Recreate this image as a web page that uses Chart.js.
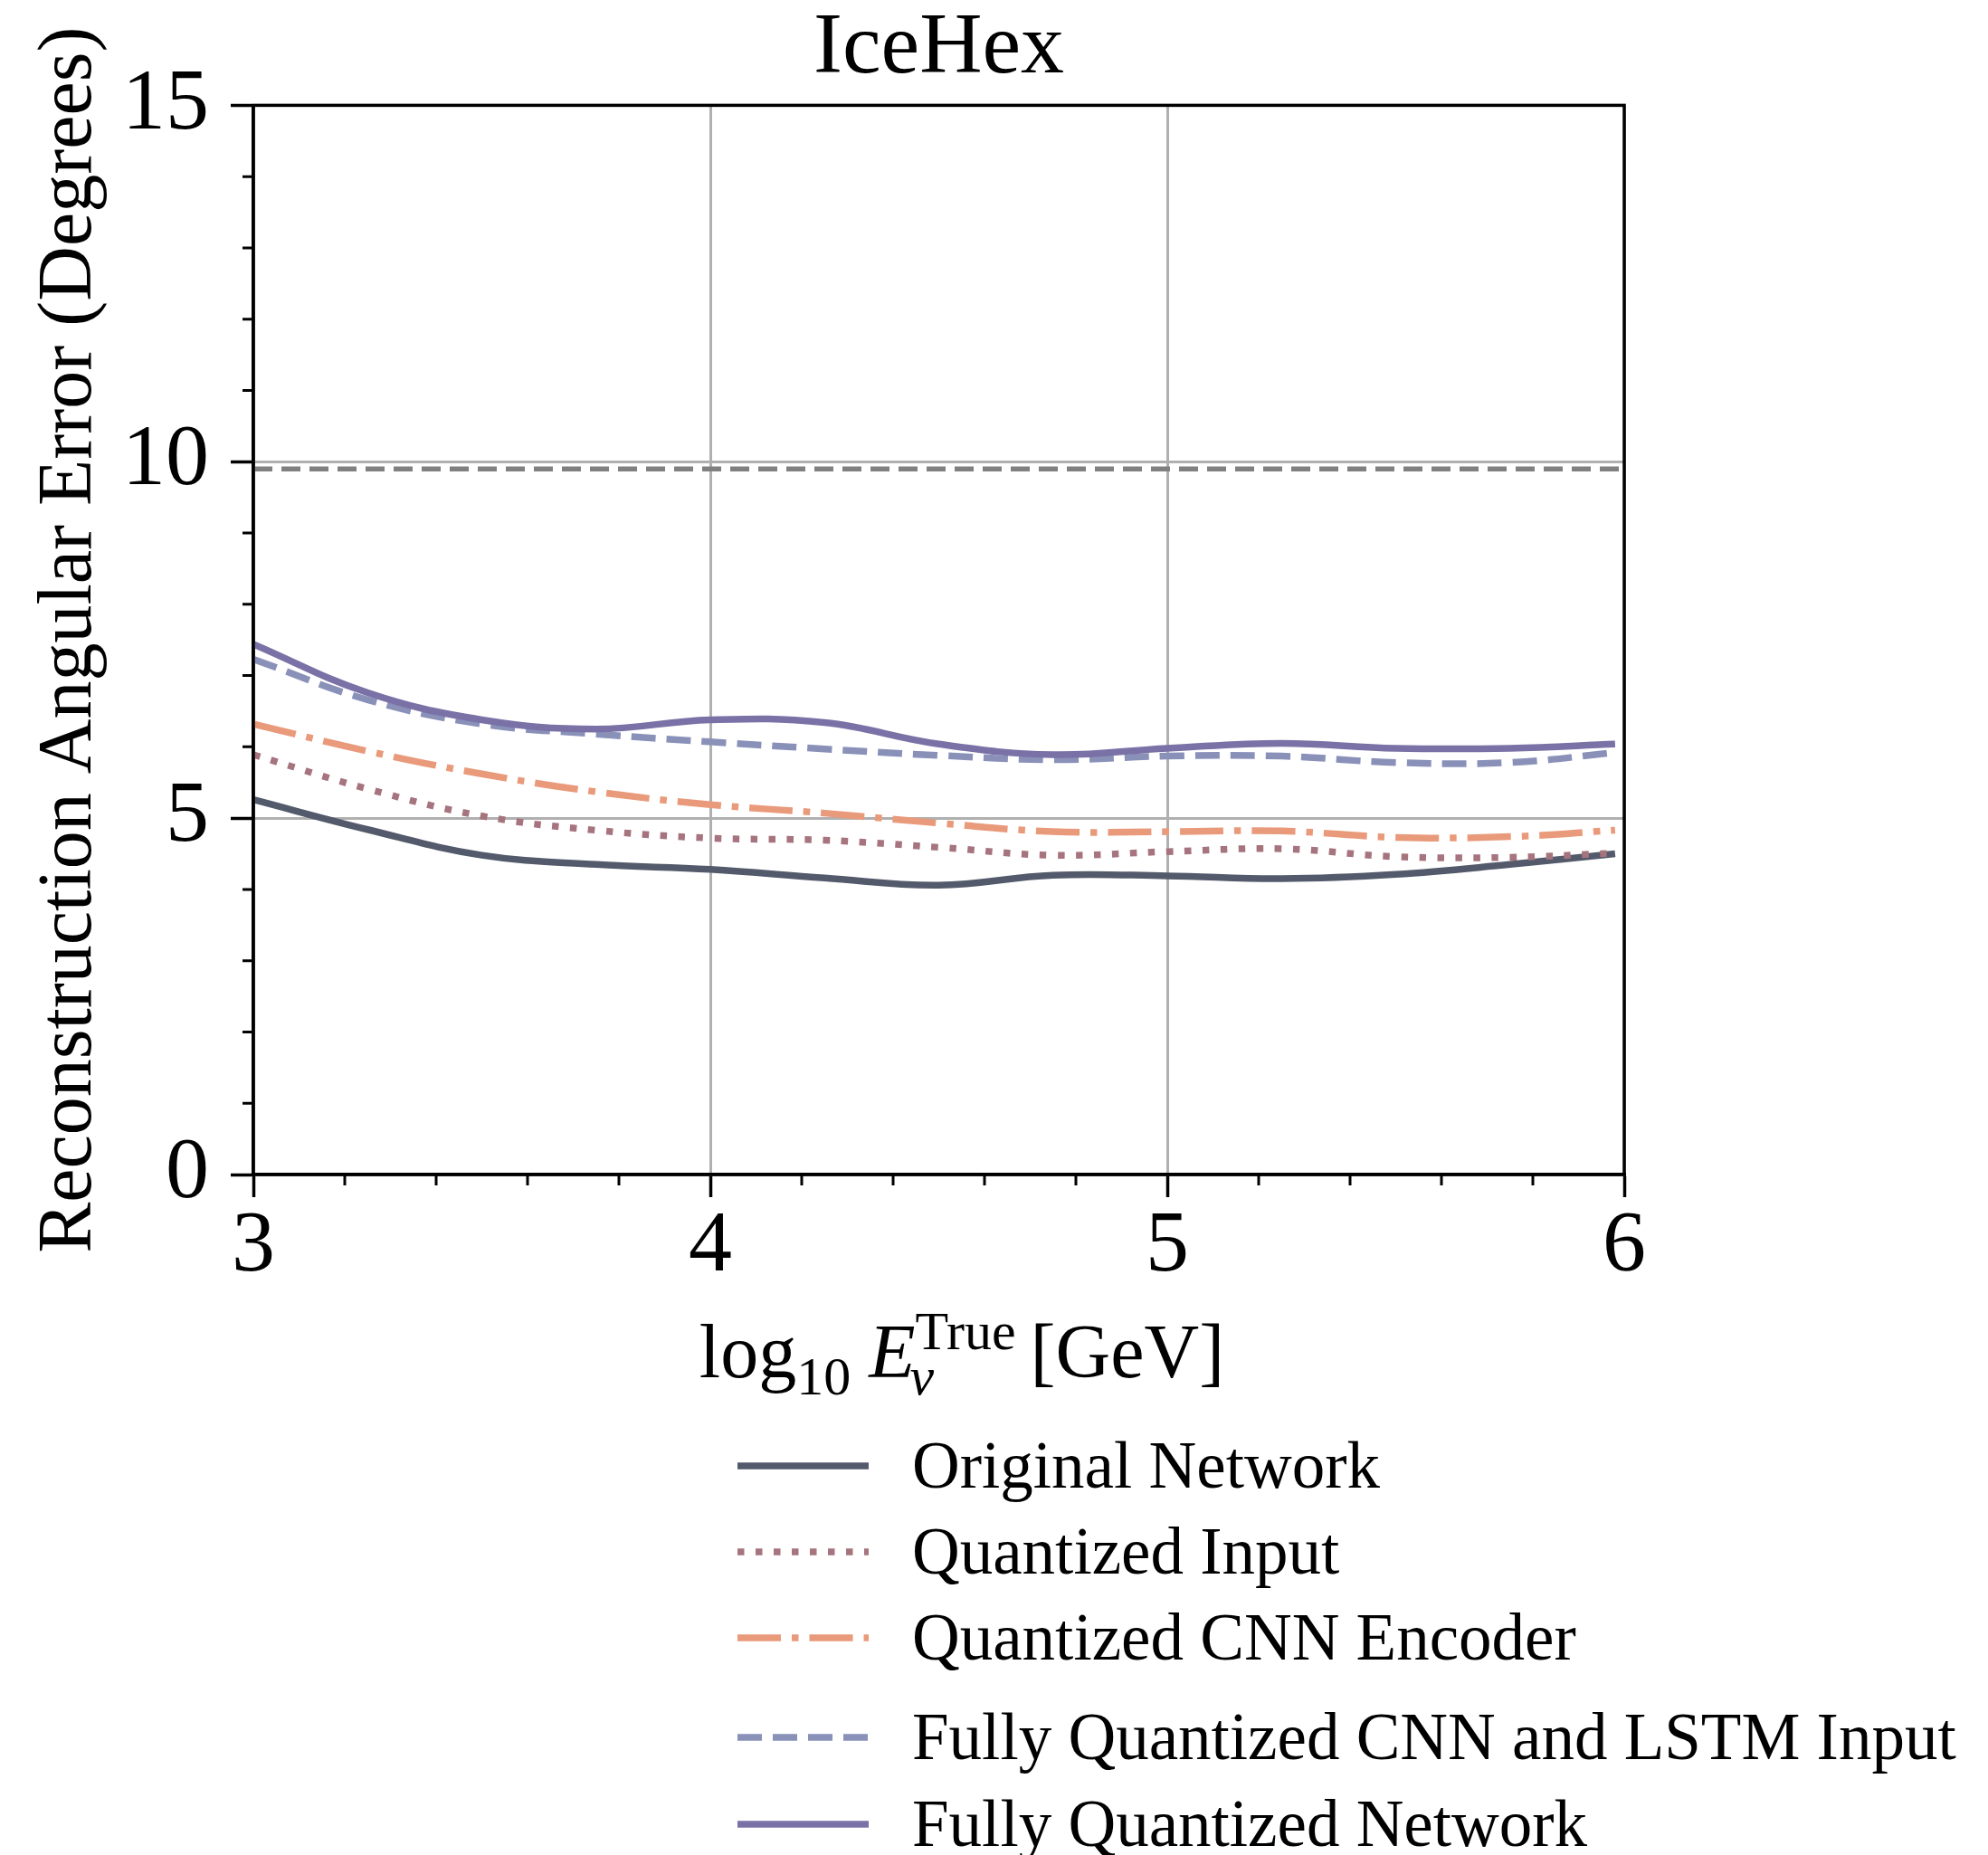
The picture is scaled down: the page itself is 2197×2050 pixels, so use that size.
<!DOCTYPE html>
<html>
<head>
<meta charset="utf-8">
<script src="https://cdn.jsdelivr.net/npm/chart.js@4.4.1/dist/chart.umd.min.js"></script>
<style>
  html, body { margin: 0; padding: 0; background: #fff; }
  #wrap { width: 2197px; height: 2050px; }
</style>
</head>
<body>
<div id="wrap"><canvas id="errChart" width="2197" height="2050"></canvas></div>
<script>
// log10(E_true / GeV) bin positions
const energies = [3.0, 3.25, 3.5, 3.75, 4.0, 4.25, 4.5, 4.75, 5.0, 5.25, 5.5, 5.75, 5.98];

// reconstruction angular error in degrees
const originalNet  = [5.26, 4.84, 4.48, 4.35, 4.28, 4.16, 4.06, 4.20, 4.19, 4.15, 4.21, 4.35, 4.50];
const quantInput   = [5.89, 5.41, 5.03, 4.83, 4.72, 4.69, 4.59, 4.48, 4.53, 4.57, 4.46, 4.45, 4.51];
const quantCnnEnc  = [6.32, 5.94, 5.62, 5.37, 5.19, 5.07, 4.93, 4.81, 4.81, 4.82, 4.73, 4.74, 4.83];
const fullCnnLstm  = [7.23, 6.66, 6.32, 6.18, 6.07, 5.97, 5.88, 5.82, 5.87, 5.87, 5.78, 5.78, 5.92];
const fullQuantNet = [7.44, 6.76, 6.38, 6.25, 6.38, 6.34, 6.04, 5.89, 5.98, 6.05, 5.98, 5.98, 6.04];

// horizontal reference level (grey dashed)
const refLevel = 9.9;

const seriesNames = [
    "Original Network",
    "Quantized Input",
    "Quantized CNN Encoder",
    "Fully Quantized CNN and LSTM Input",
    "Fully Quantized Network"
];

const xTicks = [3, 4, 5, 6];
const yTicks = [0, 5, 10, 15];
const xMinorStep = 0.2;
const yMinorStep = 1;

const serif = "'Liberation Serif', 'DejaVu Serif', serif";
const LW = 7.5;

function toPoints(vals) {
    return vals.map((v, i) => ({ x: energies[i], y: v }));
}

function lineSet(label, vals, color, dash, order) {
    return {
        label: label,
        data: toPoints(vals),
        borderColor: color,
        borderWidth: LW,
        borderDash: dash,
        borderCapStyle: "butt",
        pointRadius: 0,
        tension: 0.4,
        fill: false,
        order: order
    };
}

const datasets = [
    lineSet(seriesNames[0], originalNet, "#535a6b", [], 5),
    lineSet(seriesNames[1], quantInput, "#a6747e", [7.5, 12.5], 4),
    lineSet(seriesNames[2], quantCnnEnc, "#e99a7b", [48, 12, 7.5, 12], 3),
    lineSet(seriesNames[3], fullCnnLstm, "#8a91b9", [27, 12], 2),
    lineSet(seriesNames[4], fullQuantNet, "#7a72a6", [], 1),
    {
        label: "reference",
        data: [{ x: xTicks[0], y: refLevel }, { x: xTicks[xTicks.length - 1], y: refLevel }],
        borderColor: "#808080",
        borderWidth: 5.5,
        borderDash: [21, 10],
        pointRadius: 0,
        fill: false,
        order: 6
    }
];

// minor ticks + closing frame (top/right spines)
const frameAndMinor = {
    id: "frameAndMinor",
    afterDraw(chart) {
        const { ctx, chartArea: a, scales } = chart;
        const xs = scales.x, ys = scales.y;
        ctx.save();
        ctx.strokeStyle = "#000";
        ctx.lineWidth = 3;
        ctx.beginPath();
        for (let v = xs.min; v <= xs.max + 1e-6; v += xMinorStep) {
            if (Math.abs(v - Math.round(v)) < 1e-6) continue;
            const px = xs.getPixelForValue(v);
            ctx.moveTo(px, a.bottom);
            ctx.lineTo(px, a.bottom + 12);
        }
        for (let v = ys.min; v <= ys.max + 1e-6; v += yMinorStep) {
            if (yTicks.indexOf(v) >= 0) continue;
            const py = ys.getPixelForValue(v);
            ctx.moveTo(a.left - 12, py);
            ctx.lineTo(a.left, py);
        }
        ctx.stroke();
        ctx.lineWidth = 3.5;
        ctx.strokeRect(a.left, a.top, a.right - a.left, a.bottom - a.top);
        ctx.restore();
    }
};

// x axis title with sub/superscripts, and the stacked legend under it
const labelAndLegend = {
    id: "labelAndLegend",
    afterDraw(chart) {
        const { ctx, chartArea: a } = chart;
        ctx.save();
        ctx.fillStyle = "#000";
        ctx.textBaseline = "alphabetic";

        // log10 E_nu^True [GeV]
        const big = 84, small = 60;
        const fBig = big + "px " + serif;
        const fSmall = small + "px " + serif;
        const fItal = "italic " + big + "px " + serif;
        const fItalSmall = "italic " + small + "px " + serif;
        ctx.font = fBig;   const wLog = ctx.measureText("log").width;
        const wGev = ctx.measureText("[GeV]").width;
        ctx.font = fSmall; const w10 = ctx.measureText("10").width;
        const wTrue = ctx.measureText("True").width;
        ctx.font = fItal;  const wE = ctx.measureText("E").width;
        ctx.font = fItalSmall; const wNu = ctx.measureText("\u03bd").width;
        const gap1 = 20, gap2 = 16;
        const total = wLog + w10 + gap1 + wE + Math.max(wNu, wTrue) + gap2 + wGev;
        const base = a.bottom + 224;
        let x = 1063 - total / 2;
        ctx.textAlign = "left";
        ctx.font = fBig; ctx.fillText("log", x, base); x += wLog;
        ctx.font = fSmall; ctx.fillText("10", x, base + 19); x += w10 + gap1;
        ctx.font = fItal; ctx.fillText("E", x, base); x += wE;
        ctx.font = fItalSmall; ctx.fillText("\u03bd", x - 6, base + 19);
        ctx.font = fSmall; ctx.fillText("True", x, base - 31);
        x += Math.max(wNu, wTrue) + gap2;
        ctx.font = fBig; ctx.fillText("[GeV]", x, base);

        // legend
        const rowY = [322, 417, 512, 622, 718];
        const x0 = 815, x1 = 960, tx = 1008;
        ctx.font = "73px " + serif;
        for (let i = 0; i < seriesNames.length; i++) {
            const ds = chart.data.datasets[i];
            const y = a.bottom + rowY[i];
            ctx.save();
            ctx.strokeStyle = ds.borderColor;
            ctx.lineWidth = LW;
            ctx.lineCap = "butt";
            ctx.setLineDash(ds.borderDash || []);
            ctx.beginPath();
            ctx.moveTo(x0, y);
            ctx.lineTo(x1, y);
            ctx.stroke();
            ctx.restore();
            ctx.fillText(seriesNames[i], tx, y + 24);
        }
        ctx.restore();
    }
};

const ctx = document.getElementById("errChart").getContext("2d");
const errChart = new Chart(ctx, {
    type: "line",
    data: { datasets: datasets },
    plugins: [frameAndMinor, labelAndLegend],
    options: {
        responsive: false,
        animation: false,
        devicePixelRatio: 1,
        layout: { padding: { left: 0, right: 402, top: 0, bottom: 602 } },
        plugins: {
            legend: { display: false },
            tooltip: { enabled: false },
            title: {
                display: true,
                fullSize: false,
                text: "IceHex",
                color: "#000",
                font: { family: serif, size: 96, weight: "normal", lineHeight: 1.15 },
                padding: { top: 0, bottom: 6 }
            }
        },
        scales: {
            x: {
                type: "linear",
                min: 3,
                max: 6,
                afterBuildTicks: (s) => { s.ticks = xTicks.map(v => ({ value: v })); },
                afterFit: (s) => { s.height = 150; },
                ticks: {
                    color: "#000",
                    padding: -2,
                    maxRotation: 0,
                    font: { family: serif, size: 96 }
                },
                grid: { color: "#b0b0b0", lineWidth: 3, tickColor: "#000", tickLength: 25, tickWidth: 3.5 },
                border: { display: true, color: "#000", width: 3.5 }
            },
            y: {
                min: 0,
                max: 15,
                afterBuildTicks: (s) => { s.ticks = yTicks.map(v => ({ value: v })); },
                afterFit: (s) => { s.width = 280; },
                ticks: {
                    color: "#000",
                    padding: 24,
                    font: { family: serif, size: 96 }
                },
                grid: { color: "#b0b0b0", lineWidth: 3, tickColor: "#000", tickLength: 25, tickWidth: 3.5 },
                border: { display: true, color: "#000", width: 3.5 },
                title: {
                    display: true,
                    text: "Reconstruction Angular Error (Degrees)",
                    color: "#000",
                    font: { family: serif, size: 84, weight: "normal", lineHeight: 1.2 },
                    padding: { top: 28, bottom: 0 }
                }
            }
        }
    }
});
</script>
</body>
</html>
